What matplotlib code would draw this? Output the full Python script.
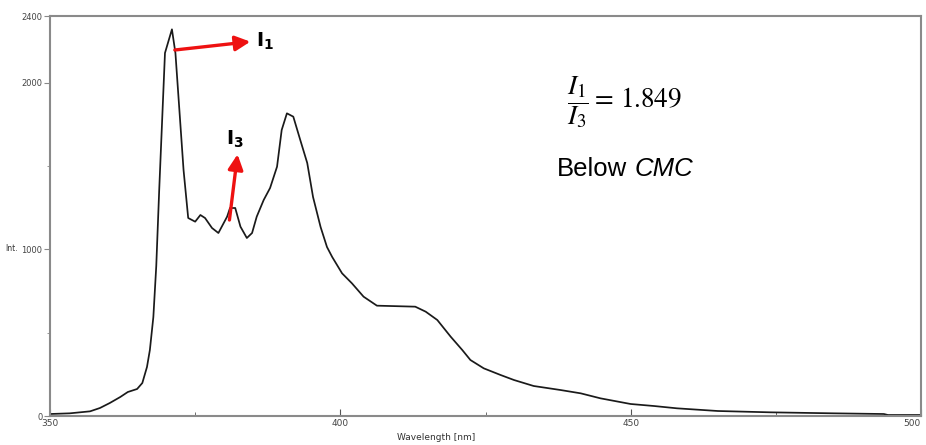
import matplotlib
matplotlib.use("Agg")
import matplotlib.pyplot as plt

wavelength = [350.0, 353.4, 356.9, 358.6, 360.3, 362.1, 363.4, 365.0, 365.9, 366.7,
              367.2, 367.8, 368.3, 368.8, 369.8, 371.0, 371.6, 373.0, 373.8, 375.0,
              375.9, 376.7, 377.9, 379.0, 380.5, 381.0, 381.9, 382.8, 383.9, 384.8,
              385.6, 386.8, 387.9, 389.1, 389.9, 390.8, 391.9, 393.1, 394.3, 395.3,
              396.6, 397.7, 398.6, 400.3, 402.0, 404.0, 406.3, 412.9, 414.7, 416.7,
              419.0, 421.0, 422.4, 424.7, 427.6, 429.9, 433.3, 437.9, 441.4, 444.8,
              450.0, 454.0, 458.0, 465.0, 474.1, 485.0, 493.6, 494.3, 500.0]
intensity = [12, 16, 28, 48, 78, 114, 144, 162, 198, 294,
             396, 594, 900, 1350, 2178, 2320, 2178, 1476, 1188, 1166,
             1206, 1188, 1128, 1098, 1196, 1248, 1248, 1136, 1068, 1098,
             1196, 1296, 1368, 1496, 1716, 1816, 1796, 1656, 1518, 1314,
             1134, 1014, 954, 856, 796, 716, 662, 656, 626, 576,
             476, 396, 336, 286, 246, 216, 180, 156, 136, 106,
             72, 60, 46, 30, 22, 16, 12, 6, 6]

x_ticks = [350, 400, 450, 500]
y_ticks = [0, 1000, 2000, 2400]

fig = plt.figure(figsize=(9.26, 4.45), dpi=100)
ax = fig.add_axes([50/926, 29/445, 871/926, 400/445])

ax.plot(wavelength, intensity, color="#1a1a1a", lw=1.25)
ax.set_xlim(350, 500)
ax.set_ylim(0, 2400)

grey = "#8a8a8a"
for s in ax.spines.values():
    s.set_color(grey)
    s.set_linewidth(1.5)

ax.set_xticks(x_ticks)
ax.set_xticklabels([str(v) for v in x_ticks])
ax.set_xticks([375, 425, 475], minor=True)
ax.set_yticks(y_ticks)
ax.set_yticklabels([str(v) for v in y_ticks])
ax.set_yticks([500, 1500], minor=True)
ax.tick_params(axis="x", which="major", direction="in", length=5, color="#555555",
               labelsize=6.5, labelcolor="#444444", pad=2)
ax.tick_params(axis="x", which="minor", direction="in", length=3, color="#555555")
ax.tick_params(axis="y", which="major", direction="out", length=4, color="#888888",
               labelsize=6, labelcolor="#444444", pad=1.5)
ax.tick_params(axis="y", which="minor", direction="out", length=2, color="#888888")
ax.get_xticklabels()[-1].set_horizontalalignment("right")

fig.text(12/926, 1 - 249/445, "Int.", fontsize=5.5, color="#333333", ha="center", va="center")
fig.text(436/926, 1 - 438/445, "Wavelength [nm]", fontsize=6.5, color="#333333",
         ha="center", va="center")

red = "#ee1111"
ax.annotate("", xy=(384.5, 2246), xytext=(371.5, 2196),
            arrowprops=dict(arrowstyle="-|>,head_length=0.9,head_width=0.45",
                            color=red, lw=2.4, shrinkA=0, shrinkB=0))
ax.text(385.4, 2250, r"$\mathbf{I}_{\mathbf{1}}$", fontsize=14, ha="left", va="center")
ax.annotate("", xy=(382.3, 1570), xytext=(380.9, 1176),
            arrowprops=dict(arrowstyle="-|>,head_length=0.9,head_width=0.45",
                            color=red, lw=2.4, shrinkA=0, shrinkB=0))
ax.text(381.9, 1660, r"$\mathbf{I}_{\mathbf{3}}$", fontsize=14, ha="center", va="center")

plt.rcParams["mathtext.fontset"] = "stix"
ax.text(517/871, 0.785, r"$\dfrac{I_1}{I_3} = \,1.849$", transform=ax.transAxes,
        fontsize=19.5, ha="left", va="center")
t = ax.text(507/871, 0.617, "Below", transform=ax.transAxes,
            fontsize=18.5, ha="left", va="center", fontfamily="Liberation Sans")
ax.annotate("CMC", xy=(1, 0.5), xycoords=t, xytext=(5, 0), textcoords="offset points",
            fontsize=18.5, ha="left", va="center", style="italic",
            fontfamily="Liberation Sans")

fig.savefig("out.png", dpi=100)
